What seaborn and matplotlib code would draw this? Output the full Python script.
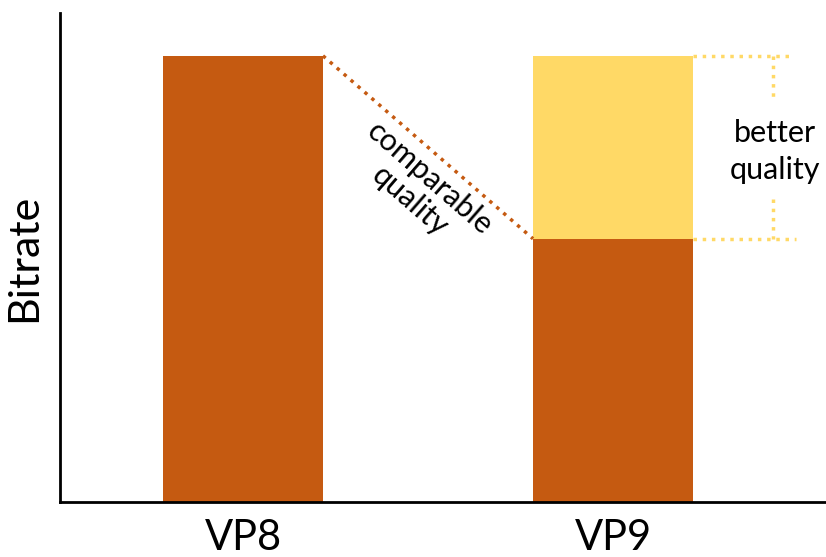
import seaborn as sns
import matplotlib.pyplot as plt
import numpy as np
import pandas as pd

# codecs and bitrates (relative, VP8 = 100)
codecs = ['VP8', 'VP9']
total_bitrate = [100, 100]   # same bitrate -> VP9 gets better quality
vp9_same_quality = [100, 59]  # bitrate VP9 needs for comparable quality

dark = '#C55A11'
light = '#FFD966'

sns.set_style('white')
plt.rcParams['font.family'] = ['Lato', 'DejaVu Sans']

fig = plt.figure(figsize=(8.26, 5.57), dpi=100)
ax = fig.add_axes([0.0726, 0.0987, 0.9274, 0.878])

w = 0.432
sns.barplot(x=codecs, y=total_bitrate, hue=codecs, palette=[dark, light],
            legend=False, width=w, saturation=1, linewidth=0, ax=ax)
sns.barplot(x=codecs, y=vp9_same_quality, color=dark, width=w, saturation=1,
            linewidth=0, ax=ax)

# dotted line linking equal-quality bitrates
ax.plot([0 + w / 2, 1 - w / 2], [total_bitrate[0], vp9_same_quality[1]],
        ls=':', color=dark, lw=2.5)
ax.text(0.478, 70, 'comparable\nquality', rotation=-41, ha='center', va='center',
        fontsize=22, linespacing=1.1, rotation_mode='anchor', color='black')

# bracket for "better quality"
xr = 1 + w / 2
ax.plot([xr, 1.486], [100, 100], ls=':', color=light, lw=2.5)
ax.plot([xr, 1.496], [59, 59], ls=':', color=light, lw=2.5)
ax.plot([1.432, 1.432], [100, 90], ls=':', color=light, lw=2.5)
ax.plot([1.432, 1.432], [68, 59], ls=':', color=light, lw=2.5)
ax.text(1.438, 78.5, 'better\nquality', ha='center', va='center', fontsize=22,
        linespacing=1.4, color='black')

ax.set_xlim(-0.495, 1.576)
ax.set_ylim(0, 109.6)
ax.set_yticks([])
ax.set_ylabel('Bitrate', fontsize=31, labelpad=12, color='black')
ax.tick_params(axis='x', length=0, labelsize=30, pad=12, labelcolor='black')
sns.despine(ax=ax)
for s in ['left', 'bottom']:
    ax.spines[s].set_color('black')
    ax.spines[s].set_linewidth(2)

fig.savefig('out.png', dpi=100)
